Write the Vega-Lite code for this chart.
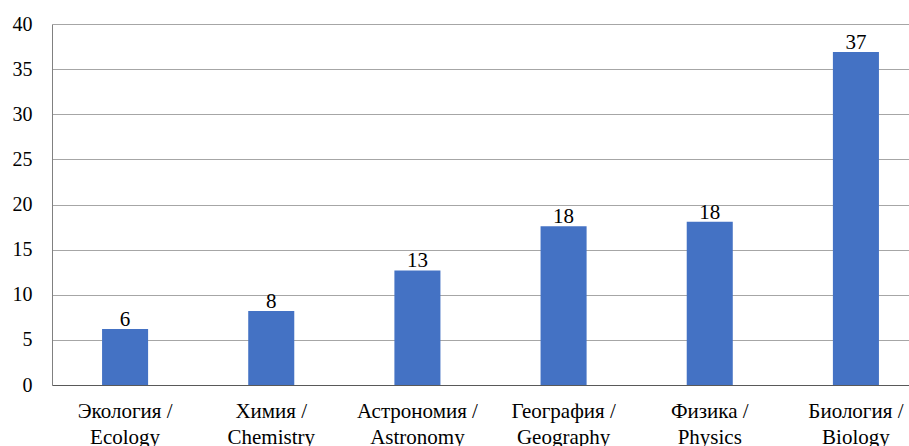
{
  "$schema": "https://vega.github.io/schema/vega-lite/v6.json",
  "autosize": {"type": "none"},
  "padding": {"left": 52, "top": 24, "right": 0, "bottom": 61},
  "width": 857,
  "height": 361,
  "background": "white",
  "config": {"view": {"stroke": null}, "font": "Liberation Serif"},
  "data": {"values": [
    {"subject": "Экология / Ecology", "value": 6.2, "label": "6"},
    {"subject": "Химия / Chemistry", "value": 8.2, "label": "8"},
    {"subject": "Астрономия / Astronomy", "value": 12.7, "label": "13"},
    {"subject": "География / Geography", "value": 17.6, "label": "18"},
    {"subject": "Физика / Physics", "value": 18.1, "label": "18"},
    {"subject": "Биология / Biology", "value": 36.9, "label": "37"}
  ]},
  "encoding": {
    "x": {"field": "subject", "type": "nominal", "sort": null,
      "scale": {"range": [0, 877], "paddingInner": 0.685, "paddingOuter": 0.3425},
      "axis": {"title": null, "labelAngle": 0, "ticks": false, "domainColor": "#595959", "domainWidth": 1,
        "labelFont": "Liberation Serif", "labelFontSize": 21, "labelColor": "#000000",
        "labelPadding": 32, "labelLineHeight": 26, "labelBaseline": "alphabetic", "labelOverlap": false,
        "labelExpr": "[split(datum.value, ' / ')[0] + ' /', split(datum.value, ' / ')[1]]"}},
    "y": {"field": "value", "type": "quantitative",
      "scale": {"domain": [0, 40], "nice": false},
      "axis": {"title": null, "values": [0,5,10,15,20,25,30,35,40], "ticks": false,
        "domain": true, "domainColor": "#808080", "gridColor": "#a6a6a6", "gridWidth": 1,
        "labelFont": "Liberation Serif", "labelFontSize": 20, "labelColor": "#000000", "labelPadding": 20}}
  },
  "layer": [
    {"mark": {"type": "bar", "color": "#4472C4"}},
    {"mark": {"type": "text", "baseline": "alphabetic", "dy": -3, "fontSize": 21, "font": "Liberation Serif", "color": "#000000"},
     "encoding": {"text": {"field": "label"}}}
  ]
}
